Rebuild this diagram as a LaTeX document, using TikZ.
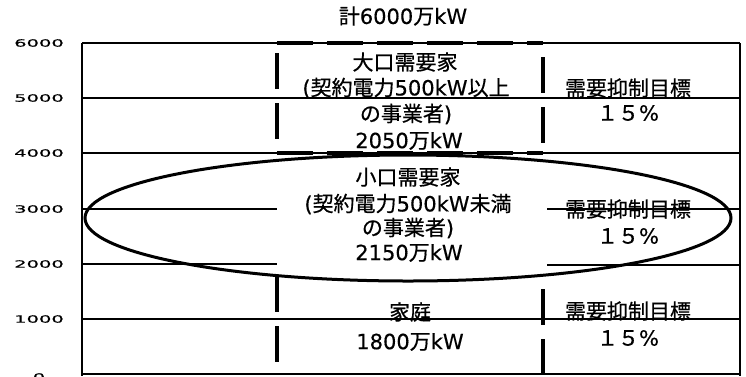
\documentclass[tikz,border=0pt]{standalone}
\usepackage{fontspec}
\setmainfont{Noto Sans CJK JP}[FakeBold=0.6]
\newfontfamily\latfont{DejaVu Sans}[FakeBold=0.4]
\newcommand{\lat}[1]{{\latfont #1}}
\newcommand{\wideNum}[1]{\scalebox{1.95}[1]{\latfont #1}}
\tikzset{
  gridline/.style={line width=1.3pt},
  frameline/.style={line width=2pt},
  boxdash/.style={line width=4.5pt, dash pattern=on 36pt off 14pt},
  oval/.style={line width=3pt},
  jtext/.style={font=\fontsize{21}{22}\selectfont, inner sep=0pt, anchor=center},
  ylab/.style={font=\fontsize{10}{11}\selectfont, inner sep=0pt, anchor=center}
}
\begin{document}
\begin{tikzpicture}[x=1pt,y=-1pt]
\useasboundingbox[fill=white] (0,0) rectangle (746,376);
% grid lines
\draw[gridline] (82,98) -- (740,98);
\draw[gridline] (82,153) -- (740,153);
\draw[gridline] (82,209) -- (277,209);
\draw[gridline] (547,209) -- (740,209);
\draw[gridline] (82,264) -- (277,264);
\draw[gridline] (547,265) -- (740,265);
\draw[gridline] (82,319) -- (740,319);
% frame
\draw[frameline] (82,43) -- (740,43);
\draw[frameline] (82,43) -- (82,376);
\draw[frameline] (740,43) -- (740,376);
\draw[frameline] (82,374) -- (740,374);
% dashed boxes
\draw[boxdash] (277,53) -- (277,153);
\draw[boxdash] (543,57) -- (543,153);
\draw[boxdash] (277,43) -- (543,43);
\draw[boxdash] (277,153) -- (543,153);
\draw[boxdash] (277,276) -- (277,376);
\draw[boxdash] (543,289) -- (543,376);
% ellipse
\draw[oval] (408,218) ellipse [x radius=323, y radius=63];
% y labels
\node[ylab] (y6) at (39,43) {\wideNum{6000}};
\node[ylab] (y5) at (39,98) {\wideNum{5000}};
\node[ylab] (y4) at (39,153) {\wideNum{4000}};
\node[ylab] (y3) at (39,209) {\wideNum{3000}};
\node[ylab] (y2) at (39,264) {\wideNum{2000}};
\node[ylab] (y1) at (39,319) {\wideNum{1000}};
\node[ylab] (y0) at (39,377) {\wideNum{0}};
% title
\node[jtext] (title) at (403,16) {計\lat{6000}万\lat{kW}};
% upper box
\node[jtext] (big1) at (405,62) {大口需要家};
\node[jtext] (big2) at (406,88) {\lat{(}契約電力\lat{500kW}以上};
\node[jtext] (big3) at (406,114) {の事業者\lat{)}};
\node[jtext] (big4) at (409,141) {\lat{2050}万\lat{kW}};
\node[jtext] (t1) at (628,88) {需要抑制目標};
\node[jtext] (p1) at (628,113) {１５\lat{\%}};
% middle
\node[jtext] (sm1) at (408,177) {小口需要家};
\node[jtext] (sm2) at (408,204) {\lat{(}契約電力\lat{500kW}未満};
\node[jtext] (sm3) at (408,228) {の事業者\lat{)}};
\node[jtext] (sm4) at (409,253) {\lat{2150}万\lat{kW}};
\node[jtext] (t2) at (628,209) {需要抑制目標};
\node[jtext] (p2) at (628,236) {１５\lat{\%}};
% lower
\node[jtext] (home1) at (410,312) {家庭};
\node[jtext] (home2) at (410,342) {\lat{1800}万\lat{kW}};
\node[jtext] (t3) at (628,311) {需要抑制目標};
\node[jtext] (p3) at (628,338) {１５\lat{\%}};
\end{tikzpicture}
\end{document}
